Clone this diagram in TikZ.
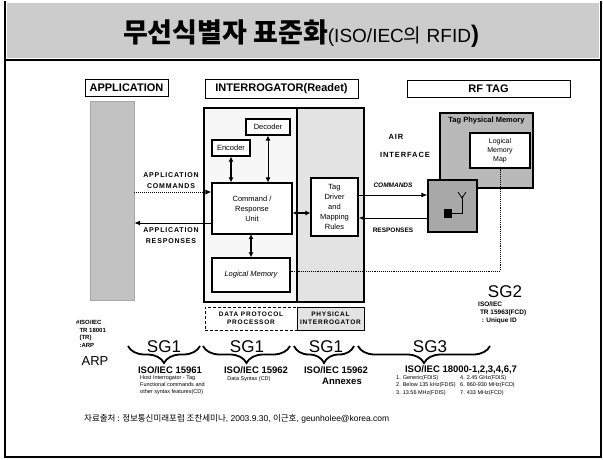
\documentclass[tikz,border=0pt]{standalone}
\usepackage{fontspec}
\setmainfont{Liberation Sans}
\newfontfamily\kr{Noto Sans CJK KR}
\newfontfamily\spaced[LetterSpace=12]{Liberation Sans}
\usetikzlibrary{arrows.meta,decorations.pathreplacing}
\tikzset{
  box/.style={draw=black,line width=1.1pt,fill=white,inner sep=1pt,align=center,font=\fontsize{7.5}{10}\selectfont},
  hdr/.style={draw=black,line width=0.9pt,fill=white,inner sep=0pt,font=\fontsize{11}{12}\selectfont\bfseries},
  dbl/.style={line width=1.6pt,{Latex[length=5pt,width=5pt]}-{Latex[length=5pt,width=5pt]}},
  thindbl/.style={line width=0.9pt,{Latex[length=5pt,width=5pt]}-{Latex[length=5pt,width=5pt]}},
  flow/.style={line width=1pt,densely dotted,-{Latex[length=6pt,width=5pt]}},
  flowsolid/.style={line width=1pt,-{Latex[length=6pt,width=5pt]}},
  brc/.style={line width=1.8pt,decorate,decoration={brace,amplitude=17pt}},
  sg/.style={font=\fontsize{17}{18}\selectfont},
  std/.style={font=\fontsize{9.5}{11}\selectfont\bfseries},
  tiny/.style={font=\fontsize{5.5}{6.5}\selectfont,align=left,inner sep=0pt},
  lbl/.style={font=\spaced\fontsize{7}{11}\selectfont\bfseries,align=center,inner sep=0pt},
}
\begin{document}
\begin{tikzpicture}[x=1pt,y=-1pt]
\useasboundingbox (0,0) rectangle (603,459);
\fill[white] (0,0) rectangle (603,459);
% frame and title
\fill[gray!40] (7,3) rectangle (599,58);
\draw[line width=2pt] (5,1) -- (5,457) -- (601,457) -- (601,1);
\draw[line width=2.2pt] (6,60) -- (600,60);
\node[inner sep=0pt] (title) at (301,34) {{\kr\bfseries\fontsize{27}{28}\selectfont 무선식별자 표준화}{\fontsize{19}{22}\selectfont(ISO/IEC{\kr 의} RFID}{\fontsize{24}{26}\selectfont\bfseries)}};
% headers
\node[hdr,minimum width=83pt,minimum height=17pt] (happ) at (126.5,87.5) {APPLICATION};
\node[hdr,minimum width=153pt,minimum height=19pt] (hint) at (281.5,88.5) {INTERROGATOR(Readet)};
\node[hdr,minimum width=163pt,minimum height=17pt] (htag) at (488.5,88.5) {RF TAG};
% application column
\node[draw=gray!70,fill=gray!48,minimum width=44pt,minimum height=199pt,inner sep=0pt] (app) at (112,200.5) {};
% interrogator
\fill[gray!6] (204,108) rectangle (297,302);
\fill[gray!22] (297,108) rectangle (364,302);
\node[draw=black,line width=1.6pt,minimum width=160pt,minimum height=194pt,inner sep=0pt] (inter) at (284,205) {};
\draw[line width=1.3pt] (297,108) -- (297,302);
\node[box,minimum width=44pt,minimum height=16pt] (dec) at (268,127) {Decoder};
\node[box,minimum width=38pt,minimum height=16pt] (enc) at (231,148) {Encoder};
\node[box,minimum width=80pt,minimum height=51pt] (cru) at (252,208.5) {Command /\\Response\\Unit};
\node[box,minimum width=78pt,minimum height=34pt,font=\fontsize{7.5}{9}\selectfont\itshape] (lm) at (251,275) {Logical Memory};
\node[box,minimum width=47pt,minimum height=58pt] (td) at (334.5,207) {Tag\\Driver\\and\\Mapping\\Rules};
% internal arrows
\draw[dbl] (enc.south) -- (enc.south |- cru.north);
\draw[thindbl] (dec.south) -- (dec.south |- cru.north);
\draw[dbl] (251,234) -- (lm.north);
\draw[dbl] (cru.east |- 0,213) -- (td.west |- 0,213);
% application flows
\draw[flow] (app.east |- 0,192) -- (cru.west |- 0,192);
\draw[flowsolid] (cru.west |- 0,223) -- (app.east |- 0,223);
\node[lbl] (lcmd) at (171,181) {APPLICATION\\COMMANDS};
\node[lbl] (lrsp) at (171,236) {APPLICATION\\RESPONSES};
% RF tag
\node[draw=black,line width=1.2pt,fill=gray!55,minimum width=93pt,minimum height=75pt,inner sep=0pt] (tpm) at (486.5,150.5) {};
\node[font=\fontsize{7.5}{8}\selectfont\bfseries,inner sep=0pt] (tpmlbl) at (486.5,121) {Tag Physical Memory};
\node[box,minimum width=60pt,minimum height=35pt,font=\fontsize{7}{9}\selectfont] (map) at (500,150.5) {Logical\\Memory\\Map};
\node[draw=black,line width=1.2pt,fill=gray!68,minimum width=49pt,minimum height=52pt,inner sep=0pt] (ant) at (452.5,206) {};
\fill[black] (444,209) rectangle (452,218);
\draw[line width=0.8pt] (452,213) -- (462,213) -- (462,196);
\draw[line width=0.8pt] (458,192) -- (462,198) -- (466,192);
\node[lbl,font=\spaced\fontsize{7.5}{9}\selectfont\bfseries] (air) at (396,137) {AIR};
\node[lbl,font=\spaced\fontsize{7.5}{9}\selectfont\bfseries] (airif) at (405,155) {INTERFACE};
\draw[flowsolid] (td.east |- 0,195) -- (ant.west |- 0,195);
\draw[flowsolid] (ant.west |- 0,218) -- (td.east |- 0,218);
\node[font=\fontsize{6.5}{7}\selectfont\bfseries\itshape,inner sep=0pt] (lcmds) at (393,185) {COMMANDS};
\node[font=\fontsize{6.5}{7}\selectfont\bfseries,inner sep=0pt] (lrsps) at (393,230) {RESPONSES};
\coordinate (dotcorner) at (map.south |- 0,271);
\draw[line width=0.9pt,densely dotted] (map.south) -- (dotcorner) -- (lm.east |- dotcorner);
% bottom dashed box
\fill[gray!22] (297,307) rectangle (364,330);
\node[draw=black,densely dashed,line width=0.7pt,minimum width=159pt,minimum height=23pt,inner sep=0pt] (dpbox) at (284.5,318.5) {};
\draw[line width=0.8pt] (297,307) rectangle (364,330);
\node[lbl,font=\spaced\fontsize{6.5}{8}\selectfont\bfseries] (dpp) at (251,318.5) {DATA PROTOCOL\\PROCESSOR};
\node[lbl,font=\spaced\fontsize{6.5}{8}\selectfont\bfseries] (phy) at (330.5,318.5) {PHYSICAL\\INTERROGATOR};
% left ARP
\node[tiny,anchor=west,font=\fontsize{6}{7.5}\selectfont\bfseries] (arptr) at (76,334) {\#ISO/IEC\\\ \ TR 18001\\\ \ (TR)\\\ \ :ARP};
\node[font=\fontsize{13}{14}\selectfont,inner sep=0pt] (arp) at (95,361) {ARP};
% SG2
\node[sg,inner sep=0pt] (sg2) at (505,292) {SG2};
\node[tiny,anchor=north west,font=\fontsize{6.5}{8}\selectfont\bfseries] (sg2t) at (478,302) {ISO/IEC\\\ TR 15963(FCD)\\\ \ : Unique ID};
% braces
\draw[brc] (200,346) -- (128,346);
\draw[brc] (290,346) -- (203,346);
\draw[brc] (354,346) -- (294,346);
\draw[brc] (490,346) -- (358,346);
\node[sg,inner sep=0pt] (sg1a) at (164,347) {SG1};
\node[sg,inner sep=0pt] (sg1b) at (247,347) {SG1};
\node[sg,inner sep=0pt] (sg1c) at (326,347) {SG1};
\node[sg,inner sep=0pt] (sg3) at (430,347) {SG3};
% standards
\node[std,inner sep=0pt] (s15961) at (170,370) {ISO/IEC 15961};
\node[tiny,anchor=north west,font=\fontsize{5.5}{6.6}\selectfont] (s15961t) at (140,376) {Host Interrogator - Tag\\Functional commands and\\other syntax features(CD)};
\node[std,inner sep=0pt] (s15962) at (256,370) {ISO/IEC 15962};
\node[font=\fontsize{5.5}{6.5}\selectfont,inner sep=0pt] (s15962t) at (249,379) {Data Syntax (CD)};
\node[std,inner sep=0pt] (s15962b) at (336,370) {ISO/IEC 15962};
\node[std,inner sep=0pt] (annex) at (342,381) {Annexes};
\node[std,inner sep=0pt] (s18000) at (461,370) {ISO/IEC 18000-1,2,3,4,6,7};
\node[tiny,anchor=north west,font=\fontsize{5.5}{7.5}\selectfont] (s18000a) at (396,375) {1. Generic(FDIS)\\2. Below 135 kHz(FDIS)\\3. 13.56 MHz(FDIS)};
\node[tiny,anchor=north west,font=\fontsize{5.5}{7.5}\selectfont] (s18000b) at (460,375) {4. 2.45 GHz(FDIS)\\6. 860-930 MHz(FCD)\\7. 433 MHz(FCD)};
% footer
\node[anchor=west,inner sep=0pt,font=\fontsize{8.5}{9}\selectfont] (foot) at (84,419) {{\kr 자료출처 : 정보통신미래포럼 조찬세미나}, 2003.9.30, {\kr 이근호}, geunholee@korea.com};
\end{tikzpicture}
\end{document}
